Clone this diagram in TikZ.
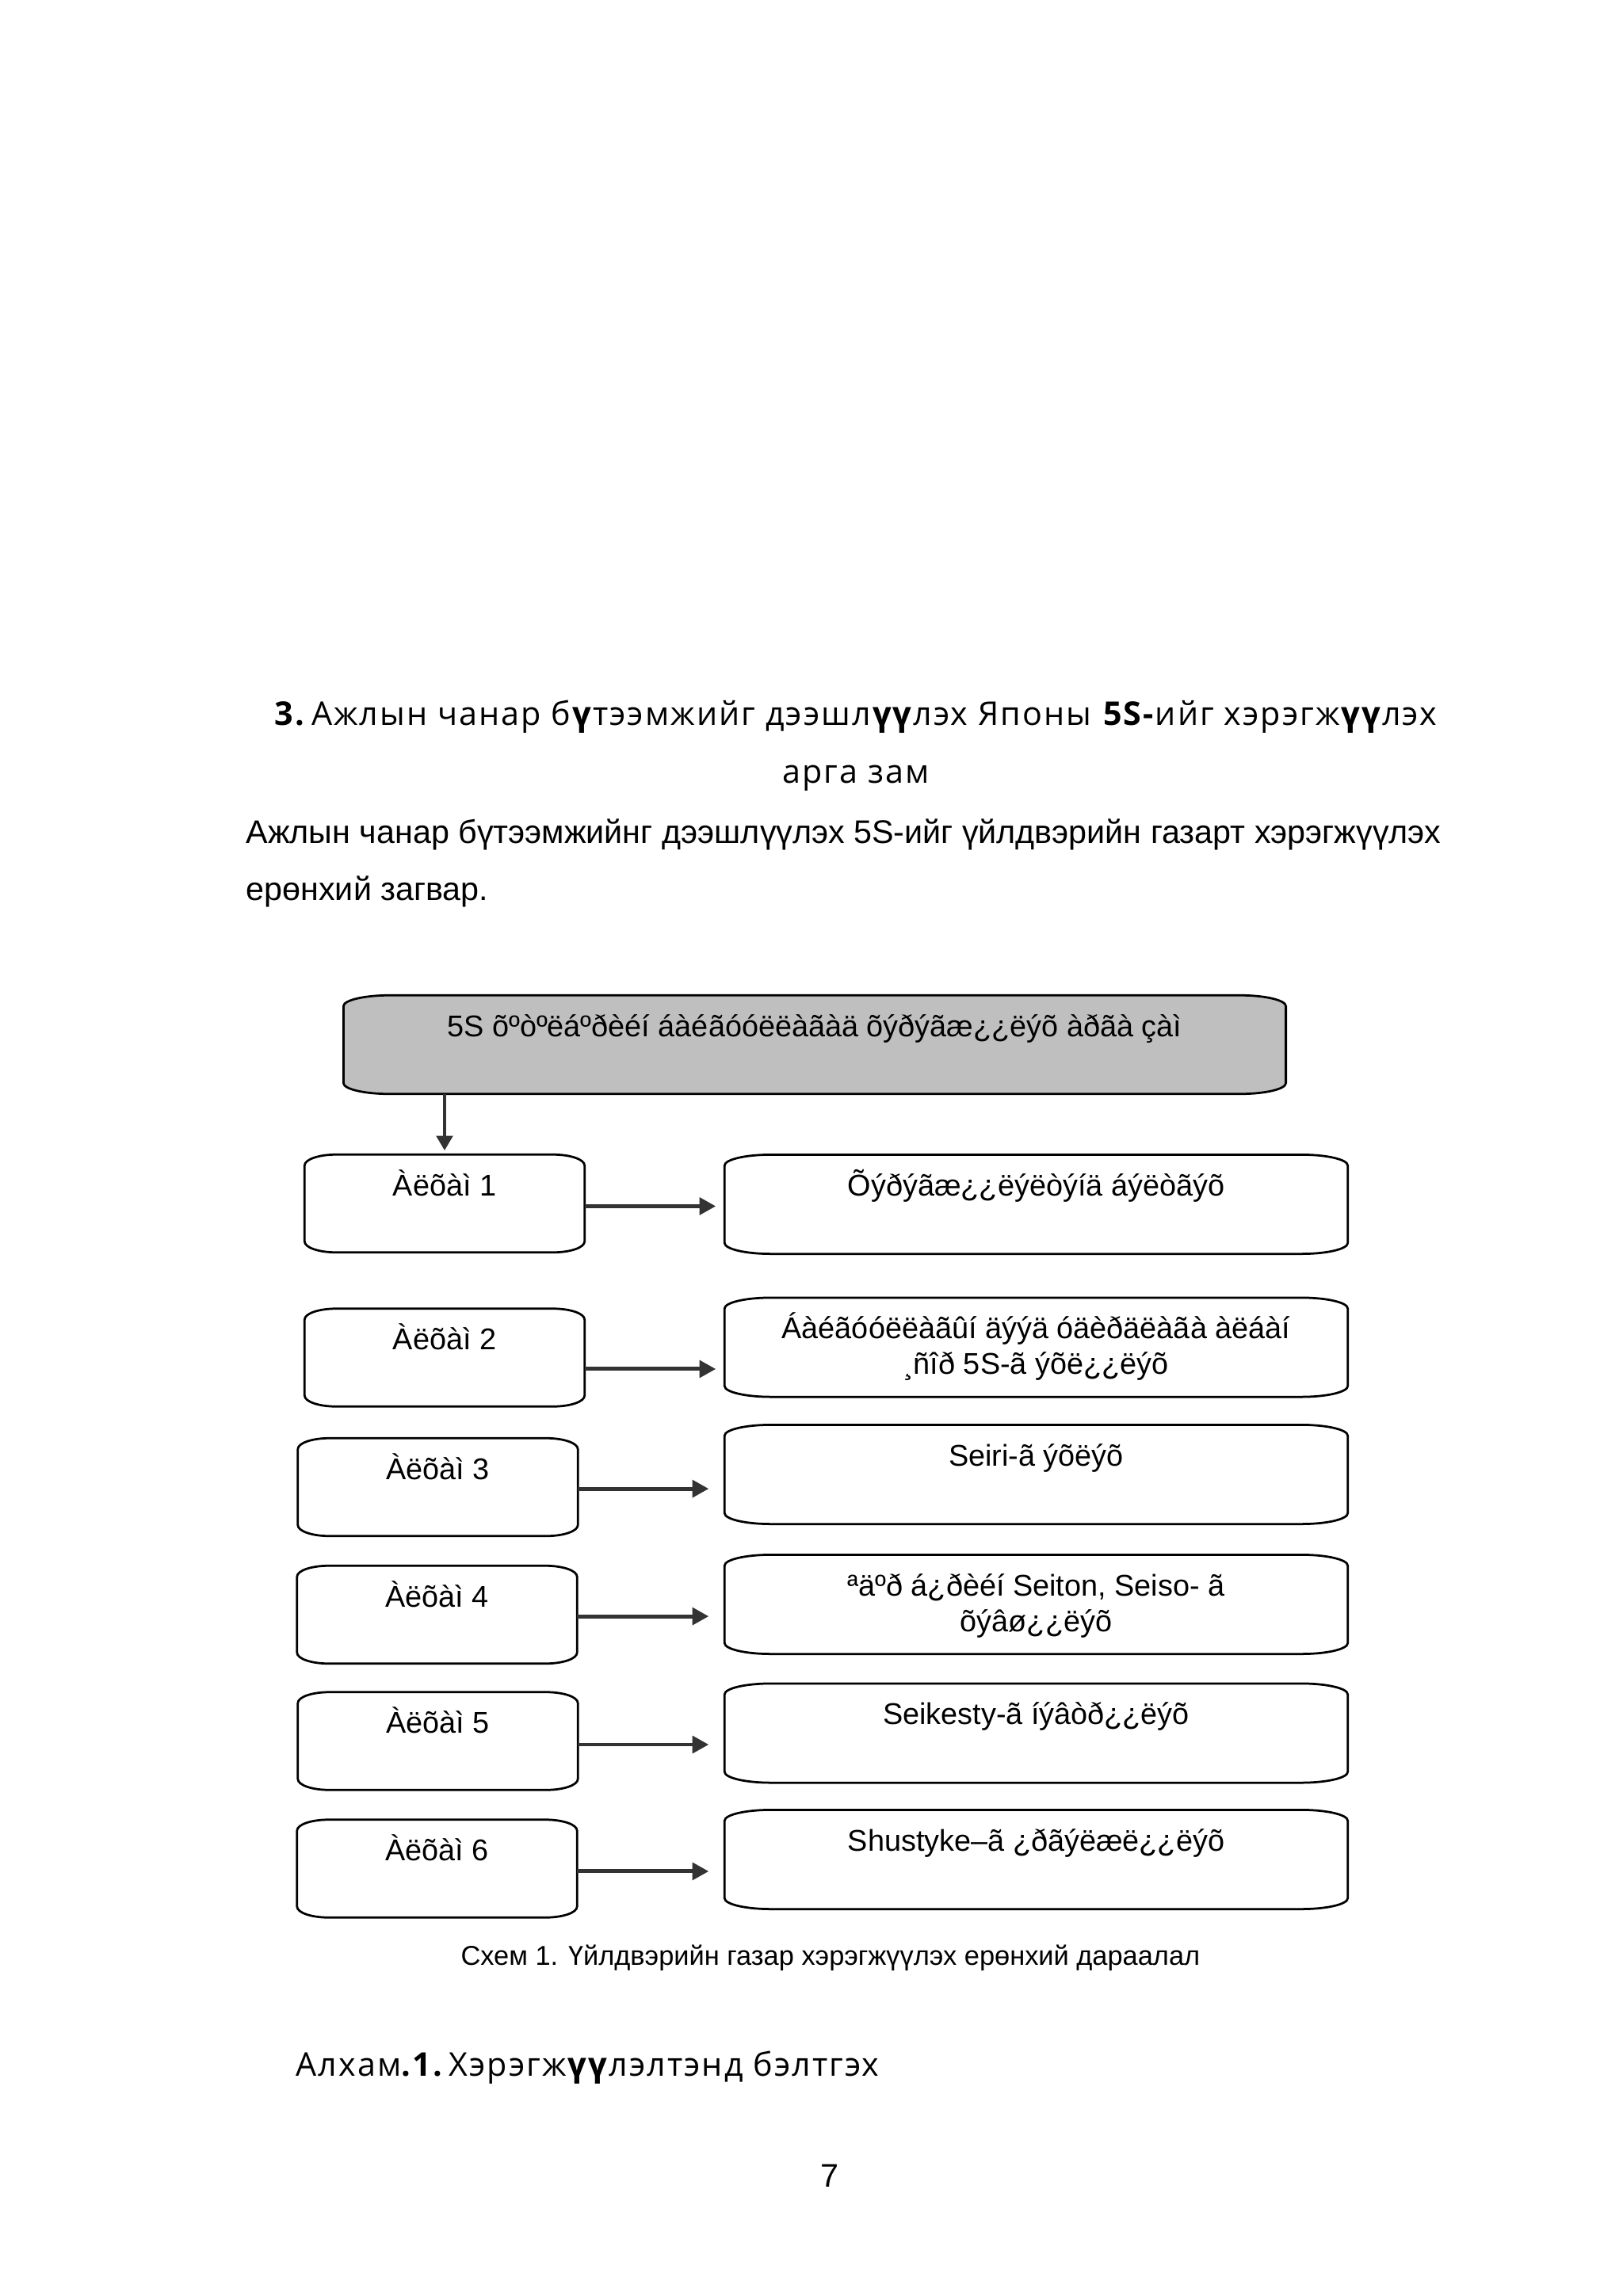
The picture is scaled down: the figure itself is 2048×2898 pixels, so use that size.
\documentclass[tikz,border=0pt]{standalone}
\usepackage{fontspec}
\setmainfont{Liberation Sans}
\newfontfamily\headfont[LetterSpace=5]{Open Sans}
\usetikzlibrary{positioning,arrows.meta}

% frame with flat elliptic corners round a node
\newcommand{\softframe}[4][]{%
  \draw[frame,#1] ([xshift=#3]#2.north west) -- ([xshift=-#3]#2.north east)
    arc[start angle=90,end angle=0,x radius=#3,y radius=#4]
    -- ([yshift=#4]#2.south east)
    arc[start angle=0,end angle=-90,x radius=#3,y radius=#4]
    -- ([xshift=#3]#2.south west)
    arc[start angle=270,end angle=180,x radius=#3,y radius=#4]
    -- ([yshift=-#4]#2.north west)
    arc[start angle=180,end angle=90,x radius=#3,y radius=#4] -- cycle;}

\begin{document}
\begin{tikzpicture}[x=0.2907pt,y=-0.2907pt,
  frame/.style={line width=0.8pt,draw=black},
  planbox/.style={minimum width=345.3pt,minimum height=35.8pt,inner sep=0pt},
  stepbox/.style={minimum width=102.3pt,minimum height=35.5pt,inner sep=0pt},
  taskbox/.style={minimum width=228.2pt,minimum height=36pt,inner sep=0pt},
  boxtext/.style={font=\fontsize{11}{13.1}\selectfont,align=center,inner sep=0pt},
  flow/.style={draw=black!80,line width=1.45pt,-{Triangle[length=6pt,width=6.2pt]}},
  down/.style={draw=black!80,line width=1.1pt,-{Triangle[length=5.4pt,width=6pt]}}]
  \useasboundingbox (0,0) rectangle (2048,2898);

  % heading and text of the page
  \node[font=\headfont\fontsize{12}{14}\selectfont,anchor=base,inner sep=0pt] (title)
    at (1080,915) {\textbf{3.}\,Ажлын чанар б\textbf{ү}тээмжийг дээшл\textbf{үү}лэх Японы \textbf{5S-}ийг хэрэгж\textbf{үү}лэх};
  \node[font=\headfont\fontsize{12}{14}\selectfont,anchor=base,inner sep=0pt] (title2)
    at (1080,988) {арга зам};
  \node[font=\fontsize{12}{14}\selectfont,anchor=base west,inner sep=0pt] (para)
    at (310,1064) {Ажлын чанар бүтээмжийнг дээшлүүлэх 5S-ийг үйлдвэрийн газарт хэрэгжүүлэх};
  \node[font=\fontsize{12}{14}\selectfont,anchor=base west,inner sep=0pt] (para2)
    at (310,1136) {ерөнхий загвар.};

  % plan box
  \node[planbox] (plan) at (1028,1318.5) {};
  \softframe[fill=black!25]{plan}{17pt}{4pt}
  \node[boxtext,below=15.1pt of plan.north,anchor=base] (plantext)
    {5S õºòºëáºðèéí áàéãóóëëàãàä õýðýãæ¿¿ëýõ àðãà çàì};

  % steps
  \node[stepbox] (a1) at (561,1519) {};
  \node[stepbox] (a2) at (561,1713.5) {};
  \node[stepbox] (a3) at (552.5,1877) {};
  \node[stepbox] (a4) at (551.5,2038) {};
  \node[stepbox] (a5) at (552.5,2197.5) {};
  \node[stepbox] (a6) at (551.5,2358.5) {};
  \softframe{a1}{11.6pt}{4pt}
  \softframe{a2}{11.6pt}{4pt}
  \softframe{a3}{11.6pt}{4pt}
  \softframe{a4}{11.6pt}{4pt}
  \softframe{a5}{11.6pt}{4pt}
  \softframe{a6}{11.6pt}{4pt}
  \node[boxtext,below=15.1pt of a1.north,anchor=base] (a1text) {Àëõàì 1};
  \node[boxtext,below=15.1pt of a2.north,anchor=base] (a2text) {Àëõàì 2};
  \node[boxtext,below=15.1pt of a3.north,anchor=base] (a3text) {Àëõàì 3};
  \node[boxtext,below=15.1pt of a4.north,anchor=base] (a4text) {Àëõàì 4};
  \node[boxtext,below=15.1pt of a5.north,anchor=base] (a5text) {Àëõàì 5};
  \node[boxtext,below=15.1pt of a6.north,anchor=base] (a6text) {Àëõàì 6};

  % tasks
  \node[taskbox] (b1) at (1307.5,1520) {};
  \node[taskbox] (b2) at (1307.5,1700.5) {};
  \node[taskbox] (b3) at (1307.5,1861) {};
  \node[taskbox] (b4) at (1307.5,2025) {};
  \node[taskbox] (b5) at (1307.5,2187.5) {};
  \node[taskbox] (b6) at (1307.5,2347) {};
  \softframe{b1}{17pt}{4pt}
  \softframe{b2}{17pt}{4pt}
  \softframe{b3}{17pt}{4pt}
  \softframe{b4}{17pt}{4pt}
  \softframe{b5}{17pt}{4pt}
  \softframe{b6}{17pt}{4pt}
  \node[boxtext,below=15.1pt of b1.north,anchor=base] (b1text) {Õýðýãæ¿¿ëýëòýíä áýëòãýõ};
  \node[boxtext,below=28.2pt of b2.north,anchor=base] (b2text)
    {Áàéãóóëëàãûí äýýä óäèðäëàãà àëáàí\\¸ñîð 5S-ã ýõë¿¿ëýõ};
  \node[boxtext,below=15.1pt of b3.north,anchor=base] (b3text) {Seiri-ã ýõëýõ};
  \node[boxtext,below=28.2pt of b4.north,anchor=base] (b4text)
    {ªäºð á¿ðèéí Seiton, Seiso- ã\\õýâø¿¿ëýõ};
  \node[boxtext,below=15.1pt of b5.north,anchor=base] (b5text) {Seikesty-ã íýâòð¿¿ëýõ};
  \node[boxtext,below=15.1pt of b6.north,anchor=base] (b6text) {Shustyke–ã ¿ðãýëæë¿¿ëýõ};

  % connectors
  \draw[down,shorten >=1.5pt] (a1.north |- plan.south) -- (a1.north);
  \draw[flow,shorten >=3.2pt] ([yshift=-1pt]a1.east) -- ([yshift=-1pt]a1.east -| b1.west);
  \draw[flow,shorten >=3.2pt] ([yshift=-4.2pt]a2.east) -- ([yshift=-4.2pt]a2.east -| b2.west);
  \draw[flow,shorten >=5.8pt] ([yshift=-0.6pt]a3.east) -- ([yshift=-0.6pt]a3.east -| b3.west);
  \draw[flow,shorten >=5.8pt] ([yshift=-0.6pt]a4.east) -- ([yshift=-0.6pt]a4.east -| b4.west);
  \draw[flow,shorten >=5.8pt] ([yshift=-1.3pt]a5.east) -- ([yshift=-1.3pt]a5.east -| b5.west);
  \draw[flow,shorten >=5.8pt] ([yshift=-1pt]a6.east) -- ([yshift=-1pt]a6.east -| b6.west);

  % caption and page foot
  \node[font=\fontsize{10}{12}\selectfont,anchor=base,inner sep=0pt] (caption)
    at (1048,2480) {Схем 1. Үйлдвэрийн газар хэрэгжүүлэх ерөнхий дараалал};
  \node[font=\headfont\fontsize{12}{14}\selectfont,anchor=base west,inner sep=0pt] (stepone)
    at (373,2620) {Алхам\textbf{.1.}\,Хэрэгж\textbf{үү}лэлтэнд бэлтгэх};
  \node[font=\fontsize{12}{14}\selectfont,anchor=base,inner sep=0pt] (page)
    at (1047,2760) {7};
\end{tikzpicture}
\end{document}
